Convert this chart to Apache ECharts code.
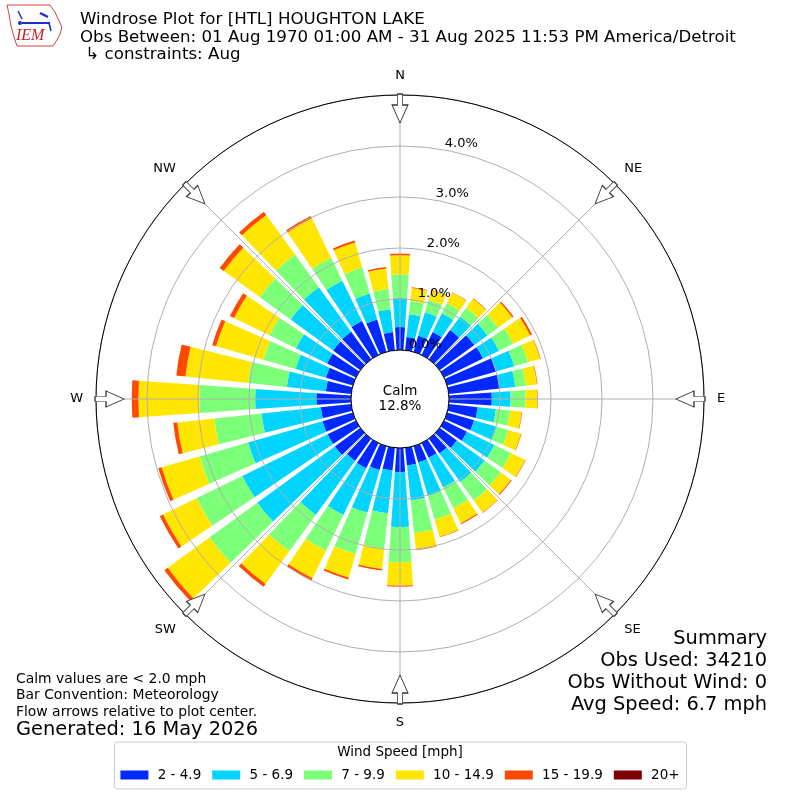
<!DOCTYPE html>
<html>
<head>
<meta charset="utf-8">
<script src="https://cdn.jsdelivr.net/npm/echarts@6/dist/echarts.min.js"></script>
<style>
html,body{margin:0;padding:0;background:#fff;}
#chart{width:800px;height:800px;}
</style>
</head>
<body>
<div id="chart"></div>
<script>
// ---- data ----
const directions = ['0','10','20','30','40','50','60','70','80','90','100','110','120','130','140','150','160','170',
  '180','190','200','210','220','230','240','250','260','270','280','290','300','310','320','330','340','350'];
const speedBins = ['2 - 4.9', '5 - 6.9', '7 - 9.9', '10 - 14.9', '15 - 19.9', '20+'];
const binColors = ['#0028ff', '#00d4ff', '#7cff79', '#ffe600', '#ff4800', '#7f0000'];
// percent of observations per direction, per speed bin
const pct2to5 = [0.45,0.26,0.33,0.50,0.71,0.84,0.85,1.00,1.01,0.84,0.57,0.55,0.50,0.42,0.36,0.32,0.33,0.35,
  0.47,0.45,0.49,0.55,0.54,0.62,0.62,0.62,0.60,0.68,0.50,0.55,0.63,0.66,0.67,0.74,0.66,0.36];
const pct5to7 = [0.57,0.45,0.48,0.41,0.33,0.32,0.35,0.37,0.30,0.37,0.36,0.45,0.60,0.67,0.69,0.65,0.69,0.69,
  1.08,0.84,0.87,1.02,1.31,1.88,1.86,1.52,1.17,1.20,0.77,0.62,0.68,1.03,1.08,0.88,0.53,0.45];
const pct7to10 = [0.46,0.26,0.25,0.22,0.21,0.26,0.31,0.28,0.21,0.29,0.28,0.25,0.36,0.39,0.45,0.45,0.48,0.64,
  0.69,0.70,0.84,0.78,0.88,1.16,1.00,0.99,0.93,1.09,0.76,0.66,0.58,0.75,0.79,0.50,0.53,0.40];
const pct10to15 = [0.38,0.26,0.20,0.23,0.22,0.34,0.37,0.25,0.22,0.23,0.23,0.26,0.31,0.25,0.29,0.33,0.35,0.33,
  0.46,0.40,0.48,0.60,0.79,1.01,0.73,0.77,0.73,1.20,1.24,0.96,0.77,0.87,0.96,0.86,0.51,0.40];
const pct15to20 = [0.03,0.01,0.01,0.01,0.01,0.03,0.04,0.01,0.01,0.01,0.01,0.01,0.01,0.02,0.01,0.02,0.01,0.01,
  0.02,0.03,0.04,0.05,0.07,0.08,0.07,0.07,0.08,0.13,0.18,0.08,0.09,0.10,0.08,0.05,0.04,0.03];
const pct20plus = [0,0,0,0,0,0,0,0,0,0,0,0,0,0,0,0,0,0,0,0,0,0,0,0,0,0,0,0,0,0,0,0,0,0,0,0];
const calmPct = 12.8;
const ringTicks = [0, 1, 2, 3, 4];
const compassLabels = ['N', 'NE', 'E', 'SE', 'S', 'SW', 'W', 'NW'];
const arrowAngles = [0, 45, 90, 135, 180, 225, 270, 315];
const summaryLines = ['Summary', 'Obs Used: 34210', 'Obs Without Wind: 0', 'Avg Speed: 6.7 mph'];

// ---- layout ----
const CX = 400, CY = 399, R0 = 49, R1 = 304, RMAX = 5;
const arrowR = 4.735;
const FONT = 'DejaVu Sans';

const chart = echarts.init(document.getElementById('chart'), null, {renderer: 'canvas'});
const seriesData = [pct2to5, pct5to7, pct7to10, pct10to15, pct15to20, pct20plus];

const barSeries = seriesData.map((d, i) => ({
  name: speedBins[i],
  type: 'bar',
  coordinateSystem: 'polar',
  polarIndex: 0,
  stack: 'wind',
  data: d,
  barCategoryGap: '20%',
  itemStyle: {color: binColors[i]},
  silent: true,
  z: 2
}));

const option = {
  animation: false,
  backgroundColor: '#fff',
  textStyle: {fontFamily: FONT},
  polar: [
    {center: [CX, CY], radius: [R0, R1]},
    {center: [CX, CY], radius: [R0, R1]},
    {center: [CX, CY], radius: [R0, R1]}
  ],
  angleAxis: [
    {polarIndex: 0, type: 'category', data: directions, startAngle: 95, clockwise: true,
     axisLine: {show: false}, axisTick: {show: false}, axisLabel: {show: false}, splitLine: {show: false}},
    {polarIndex: 1, type: 'value', min: 0, max: 360, interval: 45, startAngle: 90, clockwise: true, z: 12,
     axisLine: {show: true, lineStyle: {color: '#000', width: 1}},
     axisTick: {show: false},
     axisLabel: {show: true, margin: 13, fontSize: 13, color: '#000', fontFamily: FONT,
       formatter: v => compassLabels[Math.round(v / 45)] || ''},
     splitLine: {show: true, lineStyle: {color: '#b0b0b0', width: 1}}},
    {polarIndex: 2, type: 'value', min: 0, max: 360, startAngle: 79.8, clockwise: true,
     axisLine: {show: false}, axisTick: {show: false}, axisLabel: {show: false}, splitLine: {show: false}}
  ],
  radiusAxis: [
    {polarIndex: 0, type: 'value', min: 0, max: RMAX, interval: 1, z: 10,
     axisLine: {show: false}, axisTick: {show: false}, axisLabel: {show: false},
     splitLine: {show: true, lineStyle: {color: '#b0b0b0', width: 1}}},
    {polarIndex: 1, type: 'value', min: 0, max: RMAX, interval: 1,
     axisLine: {show: false}, axisTick: {show: false}, axisLabel: {show: false}, splitLine: {show: false}},
    {polarIndex: 2, type: 'value', min: 0, max: RMAX, interval: 1, z: 13,
     axisLine: {show: false}, axisTick: {show: false}, splitLine: {show: false},
     axisLabel: {show: true, margin: 0, align: 'left', verticalAlign: 'bottom', fontSize: 13, color: '#000',
       fontFamily: FONT,
       formatter: v => ringTicks.indexOf(v) >= 0 ? v.toFixed(1) + '%' : ''}}
  ],
  legend: {
    data: speedBins,
    left: 'center', top: 742,
    itemWidth: 28, itemHeight: 9, itemGap: 11,
    icon: 'rect',
    formatter: name => ' ' + name,
    textStyle: {fontSize: 13.5, color: '#000', fontFamily: FONT},
    borderColor: '#cccccc', borderWidth: 1, borderRadius: 3,
    padding: [26, 7, 7, 6],
    selectedMode: false
  },
  title: [
    {text: 'Wind Speed [mph]', left: 'center', top: 745, padding: 0,
     textStyle: {fontSize: 13.5, fontWeight: 'normal', color: '#000', fontFamily: FONT}}
  ],
  series: barSeries.concat([
    {
      type: 'scatter', coordinateSystem: 'polar', polarIndex: 1, silent: true, z: 15,
      symbol: 'path://M5.5,0L10.5,0L10.5,11L16,11L8,29L0,11L5.5,11Z',
      symbolSize: [16, 29],
      itemStyle: {color: '#ffffff', borderColor: '#333333', borderWidth: 1, opacity: 1},
      data: arrowAngles.map(a => ({value: [arrowR, a], symbolRotate: -a}))
    },
    {
      type: 'pie', center: [CX, CY], radius: [0, R0], silent: true, z: 20,
      data: [{value: calmPct, name: 'Calm'}],
      itemStyle: {color: '#ffffff', borderColor: '#000000', borderWidth: 1},
      label: {show: true, position: 'center', formatter: 'Calm\n' + calmPct.toFixed(1) + '%',
        fontSize: 13.5, lineHeight: 15, color: '#000', fontFamily: FONT},
      labelLine: {show: false},
      emphasis: {disabled: true}
    }
  ]),
  graphic: [
    {type: 'text', x: 80, y: 11, silent: true,
     style: {text: 'Windrose Plot for [HTL] HOUGHTON LAKE\nObs Between: 01 Aug 1970 01:00 AM - 31 Aug 2025 11:53 PM America/Detroit\n \u21b3 constraints: Aug',
       fontSize: 16.67, lineHeight: 17.5, fontFamily: FONT, fill: '#000', align: 'left', verticalAlign: 'top'}},
    {type: 'text', x: 16, y: 671, silent: true,
     style: {text: 'Calm values are < 2.0 mph\nBar Convention: Meteorology\nFlow arrows relative to plot center.',
       fontSize: 13.9, lineHeight: 16.5, fontFamily: FONT, fill: '#000', align: 'left', verticalAlign: 'top'}},
    {type: 'text', x: 16, y: 718, silent: true,
     style: {text: 'Generated: 16 May 2026', fontSize: 19.4, lineHeight: 23, fontFamily: FONT, fill: '#000',
       align: 'left', verticalAlign: 'top'}},
    {type: 'text', x: 767, y: 628, silent: true,
     style: {text: summaryLines.join('\n'), fontSize: 19.4, lineHeight: 22, fontFamily: FONT, fill: '#000',
       align: 'right', verticalAlign: 'top'}},
    // IEM logo
    {type: 'polygon', silent: true,
     shape: {points: [[7,5],[50,5],[55,12],[58,19],[62,27],[60,34],[57,40],[53,46],[17,46],[14,37],[11,26],[9,14]]},
     style: {fill: '#fff', stroke: '#d04040', lineWidth: 1}},
    {type: 'line', silent: true, shape: {x1: 22, y1: 23, x2: 50, y2: 23}, style: {stroke: '#1a2fd0', lineWidth: 2}},
    {type: 'line', silent: true, shape: {x1: 18, y1: 11, x2: 22, y2: 19}, style: {stroke: '#1a2fd0', lineWidth: 1.5}},
    {type: 'line', silent: true, shape: {x1: 40, y1: 13, x2: 48, y2: 17}, style: {stroke: '#1a2fd0', lineWidth: 2.5}},
    {type: 'line', silent: true, shape: {x1: 49, y1: 23, x2: 51, y2: 31}, style: {stroke: '#1a2fd0', lineWidth: 1.5}},
    {type: 'circle', silent: true, shape: {cx: 20, cy: 23, r: 2}, style: {fill: '#1a2fd0'}},
    {type: 'text', x: 16, y: 28, silent: true,
     style: {text: 'IEM', fontSize: 16, fontStyle: 'italic', fontFamily: 'Liberation Serif', fill: '#c81e1e',
       align: 'left', verticalAlign: 'top'}}
  ]
};
chart.setOption(option);
</script>
</body>
</html>
